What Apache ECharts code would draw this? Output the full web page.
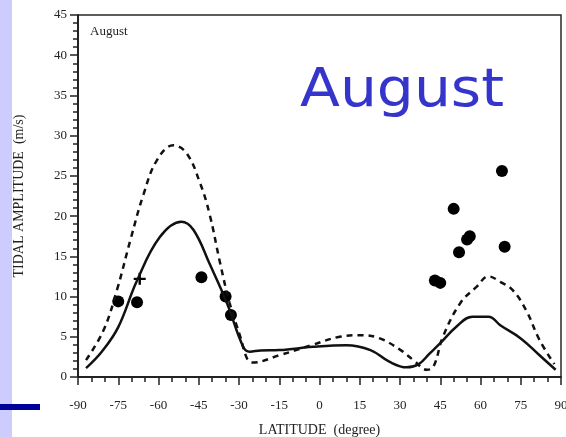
<!DOCTYPE html>
<html>
<head>
<meta charset="utf-8">
<script src="https://cdn.jsdelivr.net/npm/echarts@6/dist/echarts.min.js"></script>
<style>
  html, body { margin: 0; padding: 0; background: #fff; }
  #chart { width: 566px; height: 437px; }
</style>
</head>
<body>
<div id="chart"></div>
<script>
// Model tidal amplitude (m/s) vs latitude (degree)
const solidLat = [-87, -81, -75, -68, -59.5, -51.5, -47, -41, -34.5, -28.5, -26, -22, -15, -2.5, 10, 19, 26, 32.5, 37, 41, 45, 51, 57, 63, 67.5, 75, 82, 88];
const solidVal = [1.1, 3.2, 6.2, 12.0, 17.4, 19.3, 18.3, 14.1, 9.2, 3.8, 3.15, 3.3, 3.35, 3.75, 3.95, 3.35, 1.9, 1.2, 1.6, 2.9, 4.2, 6.25, 7.5, 7.5, 6.4, 4.8, 2.7, 0.9];
const dashLat = [-87, -80.5, -75.5, -70.5, -65.5, -60.5, -54.5, -49.5, -44.5, -41, -37, -33.5, -29.5, -27, -25, -15, -2.5, 7.5, 16, 22.5, 30, 35, 40, 42.5, 46, 52.5, 58.5, 63, 67.5, 72, 77, 82, 87.5];
const dashVal = [2.1, 5.8, 10.8, 17.0, 22.8, 27.0, 28.8, 27.8, 24.1, 20.3, 14.1, 9.2, 5.0, 2.3, 1.8, 2.7, 4.0, 5.0, 5.2, 4.8, 3.4, 2.1, 0.9, 1.3, 5.0, 9.2, 11.2, 12.5, 11.8, 10.8, 8.3, 4.6, 1.6];
// Observed amplitudes
const obsLat = [-75, -68, -44, -35, -33, 43, 45, 50, 52, 55, 56, 68, 69];
const obsVal = [9.4, 9.3, 12.4, 10.0, 7.7, 12.0, 11.7, 20.9, 15.5, 17.1, 17.5, 25.6, 16.2];
const crossLat = [-67];
const crossVal = [12.2];
// Axis ticks
const xTicks = [-90, -75, -60, -45, -30, -15, 0, 15, 30, 45, 60, 75, 90];
const yTicks = [0, 5, 10, 15, 20, 25, 30, 35, 40, 45];

const pair = (a, b) => a.map((v, i) => [v, b[i]]);
const serif = '"Liberation Serif", "DejaVu Serif", serif';

const chart = echarts.init(document.getElementById('chart'), null, { renderer: 'canvas' });
chart.setOption({
  animation: false,
  backgroundColor: '#ffffff',
  grid: {
    left: 78, right: 5, top: 15, bottom: 60, outerBoundsMode: 'none', containLabel: false,
    show: true, borderColor: '#2a2a22', borderWidth: 1.5, backgroundColor: 'transparent'
  },
  graphic: [
    { type: 'rect', left: 0, top: 0, shape: { width: 12, height: 437 }, style: { fill: '#ccccff' }, z: -1 },
    { type: 'rect', left: 0, top: 404, shape: { width: 40, height: 6 }, style: { fill: '#00009a' }, z: 1 },
    { type: 'text', left: 90, top: 25, style: { text: 'August', font: '13px ' + serif, fill: '#222' } },
    { type: 'text', left: 300, top: 65, scaleX: 1.08, style: { text: 'August', font: '54px "DejaVu Sans", sans-serif', fill: '#3535cc' } }
  ],
  xAxis: {
    type: 'value', min: xTicks[0], max: xTicks[xTicks.length - 1], interval: 15,
    name: 'LATITUDE  (degree)', nameLocation: 'middle', nameGap: 46,
    nameTextStyle: { fontFamily: serif, fontSize: 14, color: '#222' },
    axisLine: { onZero: false, lineStyle: { color: '#111', width: 1.5 } },
    axisTick: { length: 8, lineStyle: { color: '#222', width: 1.5 } },
    minorTick: { show: true, splitNumber: 3, length: 5, lineStyle: { color: '#222', width: 1.5 } },
    axisLabel: { fontFamily: serif, fontSize: 13, color: '#222', margin: 22 },
    splitLine: { show: false }
  },
  yAxis: {
    type: 'value', min: yTicks[0], max: yTicks[yTicks.length - 1], interval: 5,
    name: 'TIDAL AMPLITUDE  (m/s)', nameLocation: 'middle', nameGap: 52, nameRotate: 90,
    nameTextStyle: { fontFamily: serif, fontSize: 14, color: '#222' },
    axisLine: { onZero: false, lineStyle: { color: '#111', width: 1.5 } },
    axisTick: { length: 8, lineStyle: { color: '#222', width: 1.5 } },
    minorTick: { show: true, splitNumber: 5, length: 5, lineStyle: { color: '#222', width: 1.5 } },
    axisLabel: { fontFamily: serif, fontSize: 13, color: '#222', margin: 11 },
    splitLine: { show: false }
  },
  series: [
    {
      type: 'line', data: pair(dashLat, dashVal), smooth: 0.4, showSymbol: false,
      lineStyle: { color: '#111', width: 2.5, type: [6, 5] }
    },
    {
      type: 'line', data: pair(solidLat, solidVal), smooth: 0.4, showSymbol: false,
      lineStyle: { color: '#111', width: 2.5 }
    },
    {
      type: 'scatter', data: pair(obsLat, obsVal), symbol: 'circle', symbolSize: 12,
      itemStyle: { color: '#000', opacity: 1 }
    },
    {
      type: 'scatter', data: pair(crossLat, crossVal), symbolSize: 12,
      symbol: 'path://M4,0 L6,0 L6,4 L10,4 L10,6 L6,6 L6,10 L4,10 L4,6 L0,6 L0,4 L4,4 Z',
      itemStyle: { color: '#000', opacity: 1 }
    }
  ]
});
</script>
</body>
</html>
